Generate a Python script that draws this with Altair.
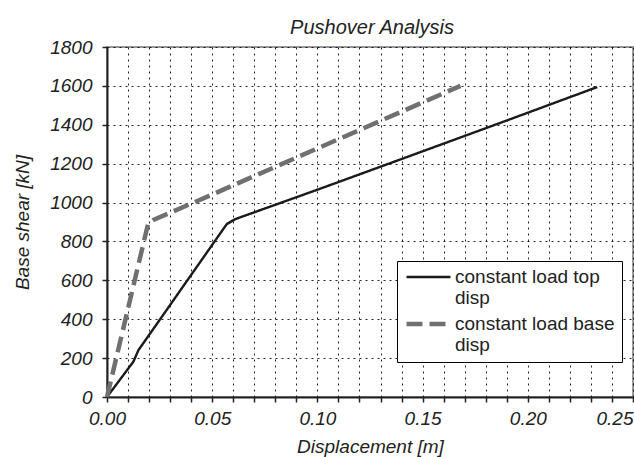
import altair as alt
import pandas as pd

FONT = "Liberation Sans"

series_names = ["constant load top disp", "constant load base disp"]

top_disp = [0.0, 0.0125, 0.015, 0.025, 0.0569, 0.061, 0.100, 0.139, 0.187, 0.233]
top_shear = [0, 181, 242, 396, 889, 915, 1066, 1220, 1410, 1594]

base_disp = [0.0, 0.009, 0.0196, 0.022, 0.044, 0.101, 0.168]
base_shear = [0, 410, 894, 910, 1013, 1283, 1600]

x_ticks = [round(i / 100, 2) for i in range(26)]
y_ticks = list(range(0, 1801, 200))

rows = []
for d, s in zip(top_disp, top_shear):
    rows.append({"series": series_names[0], "disp": d, "shear": s})
for d, s in zip(base_disp, base_shear):
    rows.append({"series": series_names[1], "disp": d, "shear": s})
df = pd.DataFrame(rows)

label_expr = ("[slice(datum.label, 0, lastindexof(datum.label, ' ')), "
              "slice(datum.label, lastindexof(datum.label, ' ') + 1)]")


def make_legend():
    return alt.Legend(
        title=None,
        orient="none",
        legendX=290,
        legendY=214,
        strokeColor="black",
        fillColor="white",
        padding=7,
        symbolType="stroke",
        symbolSize=1936,
        clipHeight=18,
        labelFont=FONT,
        labelFontSize=19,
        labelColor="#222222",
        labelOffset=2,
        labelLimit=300,
        labelExpr=label_expr,
        rowPadding=7,
    )


chart = (
    alt.Chart(df)
    .mark_line()
    .encode(
        x=alt.X(
            "disp:Q",
            scale=alt.Scale(domain=[0, 0.25], nice=False, zero=True),
            axis=alt.Axis(
                title="Displacement [m]",
                values=x_ticks,
                labelExpr="(round(datum.value * 100) % 5 == 0) ? format(datum.value, '.2f') : ''",
                labelAlign={"condition": {"test": "datum.value > 0.245", "value": "right"}, "value": "center"},
                titleY=55,
                titleBaseline="alphabetic",
            ),
        ),
        y=alt.Y(
            "shear:Q",
            scale=alt.Scale(domain=[0, 1800], nice=False),
            axis=alt.Axis(
                title="Base shear [kN]",
                values=y_ticks,
                format="d",
                titleX=-85,
                titleBaseline="middle",
            ),
        ),
        color=alt.Color(
            "series:N",
            scale=alt.Scale(domain=series_names, range=["#1a1a1a", "#707070"]),
            legend=make_legend(),
        ),
        strokeDash=alt.StrokeDash(
            "series:N",
            scale=alt.Scale(domain=series_names, range=[[1, 0], [16, 7]]),
            legend=make_legend(),
        ),
        strokeWidth=alt.StrokeWidth(
            "series:N",
            scale=alt.Scale(domain=series_names, range=[2.4, 4.5]),
            legend=make_legend(),
        ),
    )
    .properties(
        width=526,
        height=350,
        background="white",
        title=alt.TitleParams(
            "Pushover Analysis",
            font=FONT,
            fontSize=20,
            fontStyle="italic",
            fontWeight="normal",
            color="#222222",
            anchor="middle",
            dx=2,
            offset=0,
        ),
        autosize=alt.AutoSizeParams(type="none"),
        padding={"left": 107, "top": 47, "right": 1, "bottom": 60},
    )
    .configure_view(stroke="#999999", strokeWidth=2)
    .configure_axis(
        labelFont=FONT,
        labelFontSize=19,
        labelFontStyle="italic",
        labelColor="#222222",
        titleFont=FONT,
        titleFontSize=19,
        titleFontStyle="italic",
        titleFontWeight="normal",
        titleColor="#222222",
        grid=True,
        gridColor="#000000",
        gridOpacity=0.85,
        gridDash=[2, 4],
        gridWidth=1,
        domainColor="#222222",
        domainWidth=2,
        tickColor="#222222",
        tickSize=5,
        tickWidth=1.5,
        labelPadding=7,
        labelFlush=False,
        labelOverlap=False,
    )
    .configure_axisY(labelPadding=10)
)

chart.save("out.html", embed_options={"renderer": "svg", "actions": False})
